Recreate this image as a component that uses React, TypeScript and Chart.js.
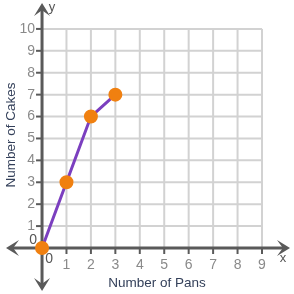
import React, { useEffect, useRef } from "react";
import { Chart, registerables } from "chart.js";

Chart.register(...registerables);

const pans = [0, 1, 2, 3];
const cakes = [0, 3, 6, 7];
const xTicks = [1, 2, 3, 4, 5, 6, 7, 8, 9];
const yTicks = [1, 2, 3, 4, 5, 6, 7, 8, 9, 10];
const xTitle = "Number of Pans";
const yTitle = "Number of Cakes";

const gridPlugin = {
  id: "gridAxes",
  beforeDatasetsDraw(chart: any) {
    const { ctx } = chart;
    const xs = chart.scales.x;
    const ys = chart.scales.y;
    const px = (v: number) => xs.getPixelForValue(v);
    const py = (v: number) => ys.getPixelForValue(v);
    ctx.save();
    // grid
    ctx.strokeStyle = "#d2d2d2";
    ctx.lineWidth = 2;
    for (const v of xTicks) {
      ctx.beginPath();
      ctx.moveTo(px(v), py(0));
      ctx.lineTo(px(v), py(10));
      ctx.stroke();
    }
    for (const v of yTicks) {
      ctx.beginPath();
      ctx.moveTo(px(0), py(v));
      ctx.lineTo(px(9), py(v));
      ctx.stroke();
    }
    // axes
    const ox = px(0);
    const oy = py(0);
    ctx.strokeStyle = "#5a5a5a";
    ctx.fillStyle = "#5a5a5a";
    ctx.lineWidth = 3;
    ctx.beginPath();
    ctx.moveTo(10, oy);
    ctx.lineTo(286, oy);
    ctx.moveTo(ox, 7);
    ctx.lineTo(ox, 286);
    ctx.stroke();
    const arrow = (tx: number, ty: number, dx: number, dy: number) => {
      const L = 13;
      const W = 8;
      const bx = tx - dx * L;
      const by = ty - dy * L;
      const nx = -dy;
      const ny = dx;
      const ix = tx - dx * L * 0.55;
      const iy = ty - dy * L * 0.55;
      ctx.beginPath();
      ctx.moveTo(tx, ty);
      ctx.lineTo(bx + nx * W, by + ny * W);
      ctx.lineTo(ix, iy);
      ctx.lineTo(bx - nx * W, by - ny * W);
      ctx.closePath();
      ctx.fill();
    };
    arrow(290, oy, 1, 0);
    arrow(6, oy, -1, 0);
    arrow(ox, 3, 0, -1);
    arrow(ox, 291, 0, 1);
    // tick marks
    ctx.lineWidth = 2;
    for (const v of xTicks) {
      ctx.beginPath();
      ctx.moveTo(px(v), oy);
      ctx.lineTo(px(v), oy + 6);
      ctx.stroke();
    }
    for (const v of yTicks) {
      ctx.beginPath();
      ctx.moveTo(ox - 6, py(v));
      ctx.lineTo(ox, py(v));
      ctx.stroke();
    }
    // tick labels
    ctx.fillStyle = "#8a8a8a";
    ctx.font = "14px 'Liberation Sans', Arial, sans-serif";
    ctx.textAlign = "center";
    ctx.textBaseline = "middle";
    for (const v of xTicks) {
      ctx.fillText(String(v), px(v), oy + 17);
    }
    ctx.textAlign = "right";
    for (const v of yTicks) {
      ctx.fillText(String(v), ox - 7, py(v));
    }
    ctx.fillStyle = "#555";
    ctx.textAlign = "center";
    ctx.fillText("0", ox + 7, oy + 11);
    ctx.fillText("0", ox - 9, oy - 8);
    ctx.font = "13px 'Liberation Sans', Arial, sans-serif";
    ctx.fillText("x", 283, oy + 10);
    ctx.fillText("y", ox + 10, 7);
    // titles
    ctx.fillStyle = "#34405a";
    ctx.font = "13.5px 'Liberation Sans', Arial, sans-serif";
    ctx.fillText(xTitle, 157, 283);
    ctx.save();
    ctx.translate(11, 135);
    ctx.rotate(-Math.PI / 2);
    ctx.fillText(yTitle, 0, 0);
    ctx.restore();
    ctx.restore();
  },
};

export default function App() {
  const ref = useRef<HTMLCanvasElement>(null);
  useEffect(() => {
    document.body.style.margin = "0";
    const chart = new Chart(ref.current!, {
      type: "line",
      data: {
        datasets: [
          {
            data: pans.map((p, i) => ({ x: p, y: cakes[i] })),
            borderColor: "#7b3fbf",
            borderWidth: 3,
            pointBackgroundColor: "#f08010",
            pointBorderColor: "#f08010",
            pointRadius: 5.5,
            tension: 0,
            clip: false as any,
          },
        ],
      },
      options: {
        animation: false,
        responsive: false,
        maintainAspectRatio: false,
        layout: { padding: 0, autoPadding: false },
        plugins: { legend: { display: false }, tooltip: { enabled: false } },
        scales: {
          x: { type: "linear", min: -1.72, max: 10.31, display: false },
          y: { type: "linear", min: -2.1, max: 11.32, display: false },
        },
      },
      plugins: [gridPlugin],
    });
    return () => chart.destroy();
  }, []);
  return (
    <div style={{ position: "fixed", left: 0, top: 0, width: 294, height: 294, background: "#fff" }}>
      <canvas ref={ref} width={294} height={294} />
    </div>
  );
}
